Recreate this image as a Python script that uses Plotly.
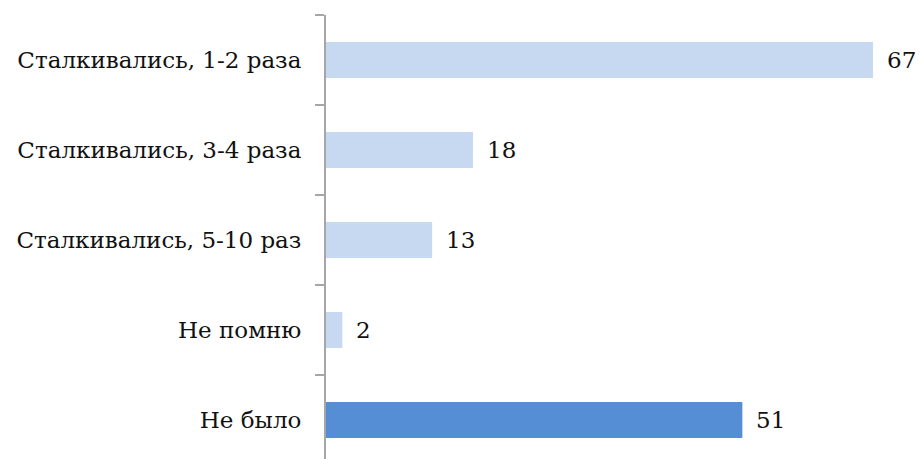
import plotly.graph_objects as go

categories = ["Сталкивались, 1-2 раза", "Сталкивались, 3-4 раза", "Сталкивались, 5-10 раз", "Не помню", "Не было"]
values = [67, 18, 13, 2, 51]
colors = ["#C6D9F1", "#C6D9F1", "#C6D9F1", "#C6D9F1", "#558ED5"]

font = dict(family="DejaVu Serif", size=23, color="#111111")

fig = go.Figure(go.Bar(
    y=categories, x=values, orientation="h",
    marker=dict(color=colors, line=dict(width=0)),
    width=0.4,
))

for c, v in zip(categories, values):
    fig.add_annotation(x=v, y=c, text=str(v), showarrow=False, xanchor="left",
                       xshift=12, font=font)

fig.update_layout(
    width=920, height=459,
    margin=dict(l=326, r=0, t=15, b=0),
    paper_bgcolor="white", plot_bgcolor="white",
    showlegend=False, font=font,
)
fig.update_xaxes(range=[0, 72.76], visible=False, automargin=False)
fig.update_yaxes(
    range=[4.433, -0.5], type="category", automargin=False,
    showline=True, linecolor="#A6A6A6", linewidth=2,
    ticks="outside", ticklen=9, tickcolor="#A6A6A6", tickwidth=2,
    tickson="boundaries", showgrid=False, zeroline=False,
    ticklabelstandoff=18, tickfont=font,
)
fig.write_html("out.html")
